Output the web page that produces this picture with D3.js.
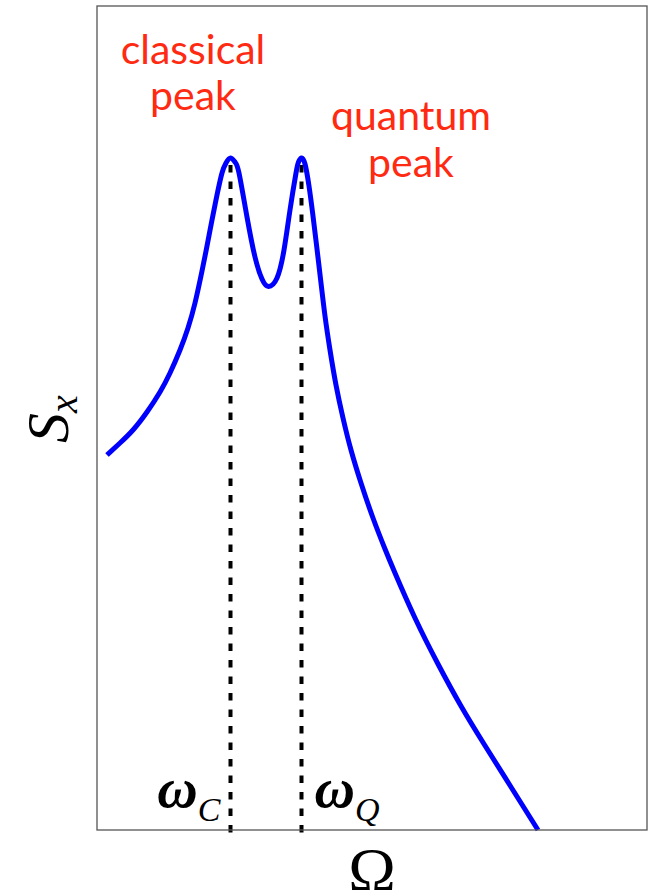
<!DOCTYPE html>
<meta charset="utf-8">
<style>
body { margin: 0; background: #fff; }
.peaklabel { font-family: Lato, "Open Sans", sans-serif; fill: #ff2a12; }
.math { font-family: "Liberation Serif", "DejaVu Serif", serif; font-style: italic; fill: #000; }
.math.upright { font-style: normal; }
</style>
<svg width="652" height="890" id="chart"></svg>
<script src="https://d3js.org/d3.v7.min.js"></script>
<script>
// spectrum: Omega (arb. units) and S_x (arb. units)
var omega = [0.10, 0.23, 0.36, 0.50, 0.63, 0.73, 0.83, 0.91, 0.98, 1.05, 1.10, 1.15, 1.20, 1.25, 1.29, 1.335,
             1.38, 1.42, 1.50, 1.58, 1.65, 1.715, 1.80, 1.87, 1.93, 1.99, 2.015, 2.045,
             2.08, 2.12, 2.16, 2.20, 2.24, 2.28, 2.33, 2.39, 2.46, 2.54, 2.64, 2.76, 2.88, 2.98,
             3.18, 3.41, 3.64, 3.87, 4.14, 4.41];
var spectrum = [3.75, 3.87, 4.00, 4.18, 4.38, 4.57, 4.80, 5.02, 5.27, 5.59, 5.84, 6.10, 6.35, 6.57, 6.67, 6.72,
                6.68, 6.57, 6.13, 5.73, 5.51, 5.435, 5.52, 5.80, 6.20, 6.57, 6.68, 6.72,
                6.66, 6.44, 6.14, 5.81, 5.47, 5.14, 4.80, 4.45, 4.12, 3.80, 3.47, 3.12, 2.81, 2.57,
                2.12, 1.66, 1.24, 0.86, 0.43, 0.00];
var peakNames = ["C", "Q"];
var peakOmega = [1.335, 2.045];
var peakHeight = [6.72, 6.72];
var peakText = [["classical", "peak"], ["quantum", "peak"]];
var labelOmega = [0.96, 3.14];
var labelS = [[7.66, 7.20], [7.00, 6.53]];

var svg = d3.select("#chart"),
    margin = {top: 6, right: 5, bottom: 60, left: 97},
    width = +svg.attr("width") - margin.left - margin.right,
    height = +svg.attr("height") - margin.top - margin.bottom,
    g = svg.append("g").attr("transform", "translate(" + margin.left + "," + margin.top + ")");

var x = d3.scaleLinear().domain([0, 5.5]).range([0, width]);
var y = d3.scaleLinear().domain([0, 8.24]).range([height, 0]);

var points = omega.map(function(d, i) { return [d, spectrum[i]]; });

// dotted markers at the two peaks
g.selectAll(".marker").data(peakOmega)
  .enter().append("line")
    .attr("class", "marker")
    .attr("x1", function(d) { return x(d); })
    .attr("x2", function(d) { return x(d); })
    .attr("y1", function(d, i) { return y(peakHeight[i]); })
    .attr("y2", y(-0.03))
    .attr("stroke", "#000")
    .attr("stroke-width", 4)
    .attr("stroke-dasharray", "7.5,9")
    .attr("stroke-dashoffset", -7);

g.append("path")
    .datum(points)
    .attr("fill", "none")
    .attr("stroke", "#0000ff")
    .attr("stroke-width", 5)
    .attr("stroke-linejoin", "round")
    .attr("d", d3.line()
        .x(function(d) { return x(d[0]); })
        .y(function(d) { return y(d[1]); })
        .curve(d3.curveNatural));

// frame
g.append("rect")
    .attr("width", width)
    .attr("height", height)
    .attr("fill", "none")
    .attr("stroke", "#555")
    .attr("stroke-width", 1.3);

// red annotations above the peaks
peakText.forEach(function(lines, i) {
  var t = g.append("text")
      .attr("class", "peaklabel")
      .attr("text-anchor", "middle")
      .attr("font-size", 41);
  lines.forEach(function(s, j) {
    t.append("tspan")
        .attr("x", x(labelOmega[i]))
        .attr("y", y(labelS[i][j]))
        .text(s);
  });
});

// omega labels at the bottom
peakNames.forEach(function(n, i) {
  var t = g.append("text")
      .attr("class", "math")
      .attr("text-anchor", i == 0 ? "end" : "start")
      .attr("x", x(peakOmega[i]) + (i == 0 ? -10 : 13))
      .attr("y", y(0.23));
  t.append("tspan").attr("font-size", 56).attr("font-weight", "bold").text("ω");
  t.append("tspan").attr("font-size", 34).attr("dy", 14).text(n);
});

// axis titles
g.append("text")
    .attr("class", "math upright")
    .attr("text-anchor", "middle")
    .attr("font-size", 64)
    .attr("x", width / 2)
    .attr("y", height + 62)
    .text("Ω");

var ylab = svg.append("text")
    .attr("class", "math")
    .attr("text-anchor", "middle")
    .attr("transform", "translate(68,419) rotate(-90)");
ylab.append("tspan").attr("font-size", 60).text("S");
ylab.append("tspan").attr("font-size", 40).attr("dy", 9).text("x");
</script>
